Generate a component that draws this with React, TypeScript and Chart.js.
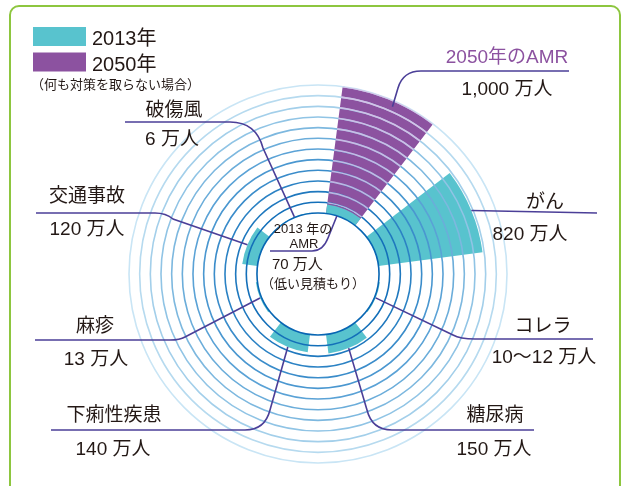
import React, { useEffect, useRef } from "react";
import { Chart, registerables } from "chart.js";

Chart.register(...registerables);

// ---- data ----
const categories = ["2013年のAMR", "がん", "コレラ", "糖尿病", "下痢性疾患", "麻疹", "交通事故", "破傷風"];
const deaths2013 = [70, 820, 11, 150, 140, 13, 120, 6];
const deaths2050: (number | null)[] = [1000, null, null, null, null, null, null, null];
const valueLabels = ["70 万人", "820 万人", "10〜12 万人", "150 万人", "140 万人", "13 万人", "120 万人", "6 万人"];
const value2050Label = "1,000 万人";
const title2050 = "2050年のAMR";
const seriesNames = ["2013年", "2050年"];
const legendNote = "（何も対策を取らない場合）";
const centerNote = "（低い見積もり）";

// ---- style ----
const TEAL = "#58c3ce";
const PURPLE = "#8c52a0";
const PURPLE_RING = "rgba(215,190,230,0.85)";
const LEADER = "#4b3f98";
const TEXT = "#231815";
const BAR_ANGLE = 30;
const GAP_ANGLE = 15;
const RING_COUNT = 12;
const RING_TOP = 1000;
const RING_COLORS = [
  "#0866b3", "#136fb9", "#1f78be", "#2b82c4", "#3a8cca", "#4a97d0", "#5aa2d6",
  "#6badda", "#7db8df", "#90c4e5", "#a3cfea", "#b6daef", "#c9e5f5",
];
const FONT_FAMILY = '"Liberation Sans", "Noto Sans CJK JP", sans-serif';

type Seg = ["L", number, number] | ["Q", number, number, number, number];
interface Callout {
  ds: number;
  idx: number;
  anchor: "outer" | "hole";
  frac: number;
  inset: number;
  path: Seg[];
  title: string;
  titleColor: string;
  tx: number;
  ty: number;
  value: string;
  vx: number;
  vy: number;
}

const callouts: Callout[] = [
  { ds: 1, idx: 0, anchor: "outer", frac: 0.55, inset: 6, path: [["L", 398, 88], ["Q", 403, 71, 421, 71], ["L", 569, 71]],
    title: title2050, titleColor: PURPLE, tx: 507, ty: 63, value: value2050Label, vx: 507, vy: 95 },
  { ds: 0, idx: 1, anchor: "outer", frac: 0.5, inset: 0, path: [["L", 597, 213]],
    title: categories[1], titleColor: TEXT, tx: 545, ty: 208, value: valueLabels[1], vx: 530, vy: 240 },
  { ds: 0, idx: 2, anchor: "outer", frac: 0.5, inset: 0, path: [["L", 453, 335], ["Q", 460, 339, 475, 339], ["L", 593, 339]],
    title: categories[2], titleColor: TEXT, tx: 543, ty: 332, value: valueLabels[2], vx: 544, vy: 363 },
  { ds: 0, idx: 3, anchor: "outer", frac: 0.5, inset: 0, path: [["L", 367, 410], ["Q", 372, 430, 392, 430], ["L", 534, 430]],
    title: categories[3], titleColor: TEXT, tx: 495, ty: 421, value: valueLabels[3], vx: 494, vy: 455 },
  { ds: 0, idx: 4, anchor: "outer", frac: 0.5, inset: 0, path: [["L", 270, 410], ["Q", 265, 430, 245, 430], ["L", 51, 430]],
    title: categories[4], titleColor: TEXT, tx: 114, ty: 421, value: valueLabels[4], vx: 113, vy: 455 },
  { ds: 0, idx: 5, anchor: "outer", frac: 0.5, inset: 0, path: [["L", 185, 337], ["Q", 180, 340, 170, 340], ["L", 35, 340]],
    title: categories[5], titleColor: TEXT, tx: 95, ty: 332, value: valueLabels[5], vx: 96, vy: 365 },
  { ds: 0, idx: 6, anchor: "outer", frac: 0.5, inset: 0, path: [["L", 173, 219], ["Q", 166, 213, 155, 213], ["L", 36, 213]],
    title: categories[6], titleColor: TEXT, tx: 87, ty: 202, value: valueLabels[6], vx: 87, vy: 235 },
  { ds: 0, idx: 7, anchor: "outer", frac: 0.5, inset: 0, path: [["L", 263, 148], ["Q", 256, 122, 230, 122], ["L", 125, 122]],
    title: categories[7], titleColor: TEXT, tx: 174, ty: 116, value: valueLabels[7], vx: 172, vy: 145 },
];

const holePlugin = {
  id: "hole",
  afterDatasetsDraw(chart: any) {
    const s = chart.scales.r;
    const ctx = chart.ctx;
    ctx.save();
    ctx.fillStyle = "#ffffff";
    ctx.beginPath();
    ctx.arc(s.xCenter, s.yCenter, s.getDistanceFromCenterForValue(0), 0, Math.PI * 2);
    ctx.fill();
    ctx.restore();
  },
};

function anchorPoint(chart: any, ds: number, idx: number, kind: "outer" | "hole", frac: number, inset: number) {
  const arc = chart.getDatasetMeta(ds).data[idx * 2];
  const p = arc.getProps(["x", "y", "startAngle", "endAngle", "outerRadius"], true);
  const a = p.startAngle + (p.endAngle - p.startAngle) * frac;
  const r = kind === "hole" ? chart.scales.r.getDistanceFromCenterForValue(0) : p.outerRadius - inset;
  return { x: p.x + Math.cos(a) * r, y: p.y + Math.sin(a) * r };
}

function drawPath(ctx: CanvasRenderingContext2D, start: { x: number; y: number }, path: Seg[]) {
  ctx.beginPath();
  ctx.moveTo(start.x, start.y);
  for (const s of path) {
    if (s[0] === "L") ctx.lineTo(s[1], s[2]);
    else ctx.quadraticCurveTo(s[1], s[2], s[3], s[4]);
  }
  ctx.stroke();
}

const calloutPlugin = {
  id: "callouts",
  afterDraw(chart: any) {
    const ctx: CanvasRenderingContext2D = chart.ctx;
    const s = chart.scales.r;
    ctx.save();

    // lighter ring lines across the 2050 bar
    const meta1 = chart.getDatasetMeta(1);
    const arc = meta1.data[0].getProps(["x", "y", "startAngle", "endAngle", "outerRadius"], true);
    const inner2013 = chart.getDatasetMeta(0).data[0].getProps(["outerRadius"], true).outerRadius;
    ctx.save();
    ctx.beginPath();
    ctx.arc(arc.x, arc.y, arc.outerRadius, arc.startAngle, arc.endAngle);
    ctx.arc(arc.x, arc.y, inner2013 + 1, arc.endAngle, arc.startAngle, true);
    ctx.closePath();
    ctx.clip();
    ctx.strokeStyle = PURPLE_RING;
    ctx.lineWidth = 1.6;
    s.ticks.forEach((t: any) => {
      const r = s.getDistanceFromCenterForValue(t.value);
      ctx.beginPath();
      ctx.arc(s.xCenter, s.yCenter, r, 0, Math.PI * 2);
      ctx.stroke();
    });
    ctx.restore();

    ctx.textBaseline = "alphabetic";

    // legend
    const legendColors = [TEAL, PURPLE];
    seriesNames.forEach((name, i) => {
      ctx.fillStyle = legendColors[i];
      ctx.fillRect(33, 27 + i * 25.5, 53, 19);
      ctx.fillStyle = TEXT;
      ctx.font = `20px ${FONT_FAMILY}`;
      ctx.textAlign = "left";
      ctx.fillText(name, 92, 45 + i * 25.5);
    });
    ctx.font = `13px ${FONT_FAMILY}`;
    ctx.fillText(legendNote, 31, 89);

    // callouts
    ctx.strokeStyle = LEADER;
    ctx.lineWidth = 1.6;
    for (const co of callouts) {
      const start = anchorPoint(chart, co.ds, co.idx, co.anchor, co.frac, co.inset);
      drawPath(ctx, start, co.path);
      ctx.textAlign = "center";
      ctx.font = `19px ${FONT_FAMILY}`;
      ctx.fillStyle = co.titleColor;
      ctx.fillText(co.title, co.tx, co.ty);
      ctx.fillStyle = TEXT;
      ctx.fillText(co.value, co.vx, co.vy);
    }

    // center (2013 AMR)
    const c0 = anchorPoint(chart, 0, 0, "hole", 0.35, 0);
    drawPath(ctx, c0, [["L", 328, 238], ["Q", 323, 251, 312, 251], ["L", 270, 251]]);
    ctx.fillStyle = TEXT;
    ctx.textAlign = "center";
    ctx.font = `13px ${FONT_FAMILY}`;
    ctx.fillText("2013 年の", 303, 233);
    ctx.fillText("AMR", 304, 248);
    ctx.textAlign = "left";
    ctx.font = `15px ${FONT_FAMILY}`;
    ctx.fillText(valueLabels[0], 272, 269);
    ctx.font = `13px ${FONT_FAMILY}`;
    ctx.fillText(centerNote, 261, 288);
    ctx.restore();
  },
};

export default function App() {
  const ref = useRef<HTMLCanvasElement>(null);

  useEffect(() => {
    const canvas = ref.current;
    if (!canvas) return;
    const labels = categories.flatMap((c) => [c, ""]);
    const table2013 = deaths2013.flatMap((v) => [v, null]);
    const table2050 = deaths2050.flatMap((v) => [v, null]);
    const ringTicks = Array.from({ length: RING_COUNT + 1 }, (_, k) => ({ value: (RING_TOP / RING_COUNT) * k }));
    const angleFn = (c: any) => (c.dataIndex % 2 === 0 ? BAR_ANGLE : GAP_ANGLE);

    const chart = new Chart(canvas, {
      type: "polarArea",
      data: {
        labels,
        datasets: [
          {
            label: seriesNames[0],
            data: table2013 as any,
            backgroundColor: (c: any) => (c.dataIndex % 2 === 0 ? TEAL : "rgba(0,0,0,0)"),
            borderWidth: 0,
            angle: angleFn,
          } as any,
          {
            label: seriesNames[1],
            data: table2050 as any,
            backgroundColor: (c: any) => (c.dataIndex % 2 === 0 ? PURPLE : "rgba(0,0,0,0)"),
            borderWidth: 0,
            angle: angleFn,
          } as any,
        ],
      },
      options: {
        responsive: false,
        animation: false,
        layout: { padding: { left: 129, right: 120, top: 85, bottom: 23 } },
        plugins: { legend: { display: false }, tooltip: { enabled: false } },
        scales: {
          r: {
            min: -477,
            max: RING_TOP,
            startAngle: GAP_ANGLE / 2,
            ticks: { display: false, stepSize: RING_TOP / RING_COUNT, z: 1 } as any,
            afterBuildTicks: (s: any) => {
              s.ticks = ringTicks.map((t) => ({ ...t }));
            },
            grid: {
              circular: true,
              color: (c: any) => RING_COLORS[c.index] ?? "rgba(0,0,0,0)",
              lineWidth: 1.6,
              z: 1,
            } as any,
            angleLines: { display: false },
            pointLabels: { display: false },
          } as any,
        },
      },
      plugins: [holePlugin, calloutPlugin],
    });
    return () => chart.destroy();
  }, []);

  return (
    <div style={{ position: "absolute", left: 0, top: 0, width: 627, height: 486, overflow: "hidden", background: "#fff" }}>
      <div
        style={{
          position: "absolute",
          left: 9,
          top: 5,
          width: 612,
          height: 540,
          boxSizing: "border-box",
          border: "2.5px solid #8dc63f",
          borderRadius: 10,
        }}
      />
      <canvas ref={ref} width={627} height={486} style={{ position: "absolute", left: 0, top: 0 }} />
    </div>
  );
}
